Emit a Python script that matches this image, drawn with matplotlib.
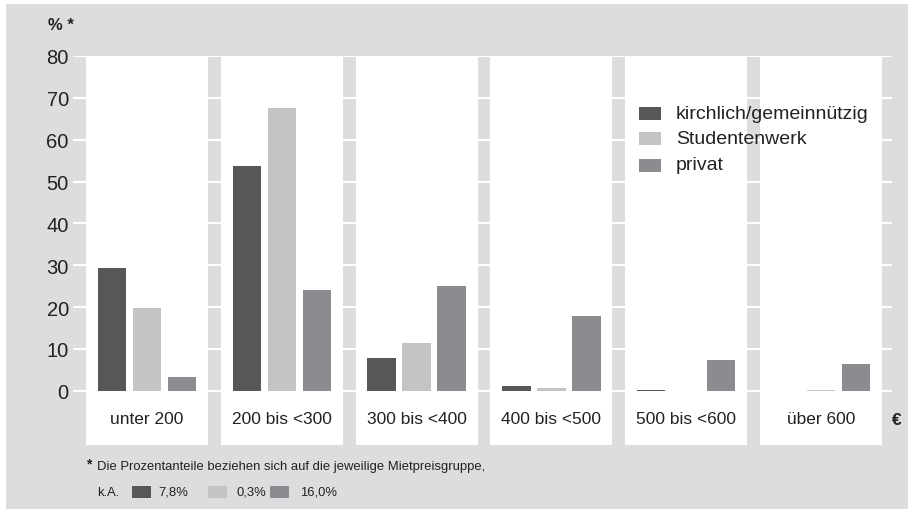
import numpy as np
import matplotlib
matplotlib.use('Agg')
import matplotlib.pyplot as plt
from matplotlib.patches import Rectangle

plt.rcParams['font.family'] = ['Liberation Sans', 'DejaVu Sans']

# Data
categories = ['unter 200', '200 bis <300', '300 bis <400', '400 bis <500', '500 bis <600', 'über 600']
series_names = ['kirchlich/gemeinnützig', 'Studentenwerk', 'privat']
kirchlich = [29.3, 53.7, 7.9, 1.2, 0.3, 0.0]
studentenwerk = [19.7, 67.6, 11.5, 0.6, 0.0, 0.3]
privat = [3.4, 24.1, 25.0, 17.9, 7.4, 6.4]
ka_labels = ['7,8%', '0,3%', '16,0%']
y_ticks = [0, 10, 20, 30, 40, 50, 60, 70, 80]

colors = ['#565759', '#c3c4c6', '#8b8c90']
bg = '#dcdddf'

W, H = 908, 510


def fx(px):
    return px / W


def fy(py):
    return 1 - py / H


def draw_chart():
    fig = plt.figure(figsize=(W / 100, H / 100), dpi=100, facecolor='white')
    fig.patches.append(Rectangle((fx(6), 0), 1 - fx(6), fy(5), transform=fig.transFigure,
                                 facecolor=bg, edgecolor='none', zorder=-5))

    # axes from px 73..892 horizontally, 57..446 vertically
    ax = fig.add_axes([fx(73), fy(446), fx(892 - 73), (446 - 57) / H])
    ax.set_facecolor('none')
    step = 134.8
    x0 = -(147 - 73) / step
    x1 = 5 + (892 - 821) / step
    ymin = -(446 - 392) / 4.17
    ax.set_xlim(x0, x1)
    ax.set_ylim(ymin, 80)

    x = np.arange(len(categories))

    # white gridlines in the gaps
    ax.hlines(y_ticks, x0, x1, colors='white', linewidth=1.5, zorder=0)

    # white panels per group
    ax.bar(x, 80 - ymin, bottom=ymin, width=0.905, color='white', zorder=1)

    width = 0.21
    offsets = [-0.26, 0.0, 0.26]
    for vals, off, c in zip([kirchlich, studentenwerk, privat], offsets, colors):
        ax.bar(x + off, vals, width, color=c, zorder=2)

    for i, cat in enumerate(categories):
        ax.text(i, -6.7, cat, ha='center', va='center', fontsize=12.5, color='#222222', zorder=3)

    for s in ax.spines.values():
        s.set_visible(False)
    ax.set_xticks([])
    ax.set_yticks(y_ticks)
    ax.set_yticklabels([str(t) for t in y_ticks], fontsize=14.5, color='#222222')
    ax.tick_params(axis='y', length=0, pad=3)

    # header and unit
    fig.text(fx(48), fy(26), '% *', fontsize=12, fontweight='bold', ha='left', va='center', color='#222222')
    fig.text(fx(897), fy(421), '€', fontsize=12.5, fontweight='bold', ha='center', va='center', color='#222222')

    # legend
    rows_y = [114.5, 139.5, 166]
    for name, c, ry in zip(series_names, colors, rows_y):
        fig.patches.append(Rectangle((fx(639), fy(ry + 6.5)), fx(22), 13 / H,
                                     transform=fig.transFigure, facecolor=c, edgecolor='none', zorder=3))
        fig.text(fx(676), fy(ry), name, fontsize=14, ha='left', va='center', color='#222222')

    # footnote
    fig.text(fx(89), fy(464), '*', fontsize=10, fontweight='bold', ha='center', va='center', color='#222222')
    fig.text(fx(97), fy(467), 'Die Prozentanteile beziehen sich auf die jeweilige Mietpreisgruppe,',
             fontsize=9.4, ha='left', va='center', color='#222222')
    fig.text(fx(97), fy(493), 'k.A.', fontsize=9.4, ha='left', va='center', color='#222222')
    sq_x = [132, 208, 270]
    txt_x = [158, 236, 300]
    for sx, tx, c, lab in zip(sq_x, txt_x, colors, ka_labels):
        fig.patches.append(Rectangle((fx(sx), fy(499)), fx(19), 12 / H,
                                     transform=fig.transFigure, facecolor=c, edgecolor='none', zorder=3))
        fig.text(fx(tx), fy(493), lab, fontsize=9.4, ha='left', va='center', color='#222222')

    fig.savefig('out.png', dpi=100, facecolor='white')


if __name__ == '__main__':
    draw_chart()
